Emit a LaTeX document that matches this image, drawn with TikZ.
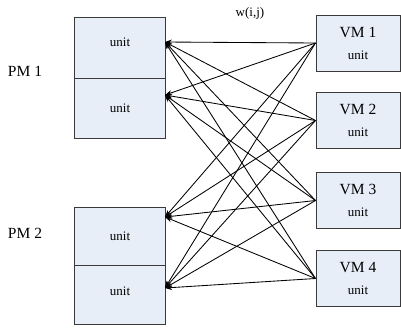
\documentclass[tikz,border=0pt]{standalone}
\usepackage{fontspec}
\setmainfont{Liberation Serif}
\usetikzlibrary{arrows.meta}
\definecolor{boxfill}{HTML}{E7EEF8}
\definecolor{boxline}{HTML}{3A3A3A}
\begin{document}
\begin{tikzpicture}[x=1pt,y=-1pt,
  unitbox/.style={draw=boxline, line width=1pt, fill=boxfill, inner sep=0pt,
    minimum width=91pt},
  vmbox/.style={draw=boxline, line width=1pt, fill=boxfill, inner sep=0pt,
    minimum width=84pt, minimum height=56pt},
  bigtxt/.style={font=\fontsize{15.5}{17}\selectfont, inner sep=0pt},
  smalltxt/.style={font=\fontsize{13}{15}\selectfont, inner sep=0pt},
  link/.style={draw=black, line width=0.85pt, -{Stealth[length=7pt,width=5pt]}}]
\useasboundingbox (0,0) rectangle (401,330);

% physical machines, each split into two units
\node[unitbox, minimum height=61pt] (pm1a) at (119.5,47.5) {};
\node[unitbox, minimum height=60pt] (pm1b) at (119.5,108) {};
\node[unitbox, minimum height=58pt] (pm2a) at (119.5,236) {};
\node[unitbox, minimum height=59pt] (pm2b) at (119.5,294.5) {};
\node[smalltxt] (t1a) at (120,42) {unit};
\node[smalltxt] (t1b) at (120,108) {unit};
\node[smalltxt] (t2a) at (120,236) {unit};
\node[smalltxt] (t2b) at (120,291) {unit};
\node[bigtxt] (pm1) at (25,71) {PM 1};
\node[bigtxt] (pm2) at (25,233) {PM 2};

% arrival points on the right side of the units
\coordinate (in1a) at (165,42);
\coordinate (in1b) at (165,95);
\coordinate (in2a) at (165,217);
\coordinate (in2b) at (165,288);

% virtual machines
\foreach \k/\yc in {1/43,2/120.5,3/200.5,4/278.5}{
  \node[vmbox] (vm\k) at (358,\yc) {};
  \node[bigtxt] (vml\k) at (358,\yc-11) {VM \k};
  \node[smalltxt] (vmu\k) at (358,\yc+12) {unit};
}

\node[smalltxt] (w) at (250,13) {w(i,j)};

% every VM may be placed on every unit
\foreach \k in {1,2,3,4}{
  \foreach \t in {in1a,in1b,in2a,in2b}{
    \draw[link] (vm\k.west) -- (\t);
  }
}
\end{tikzpicture}
\end{document}
